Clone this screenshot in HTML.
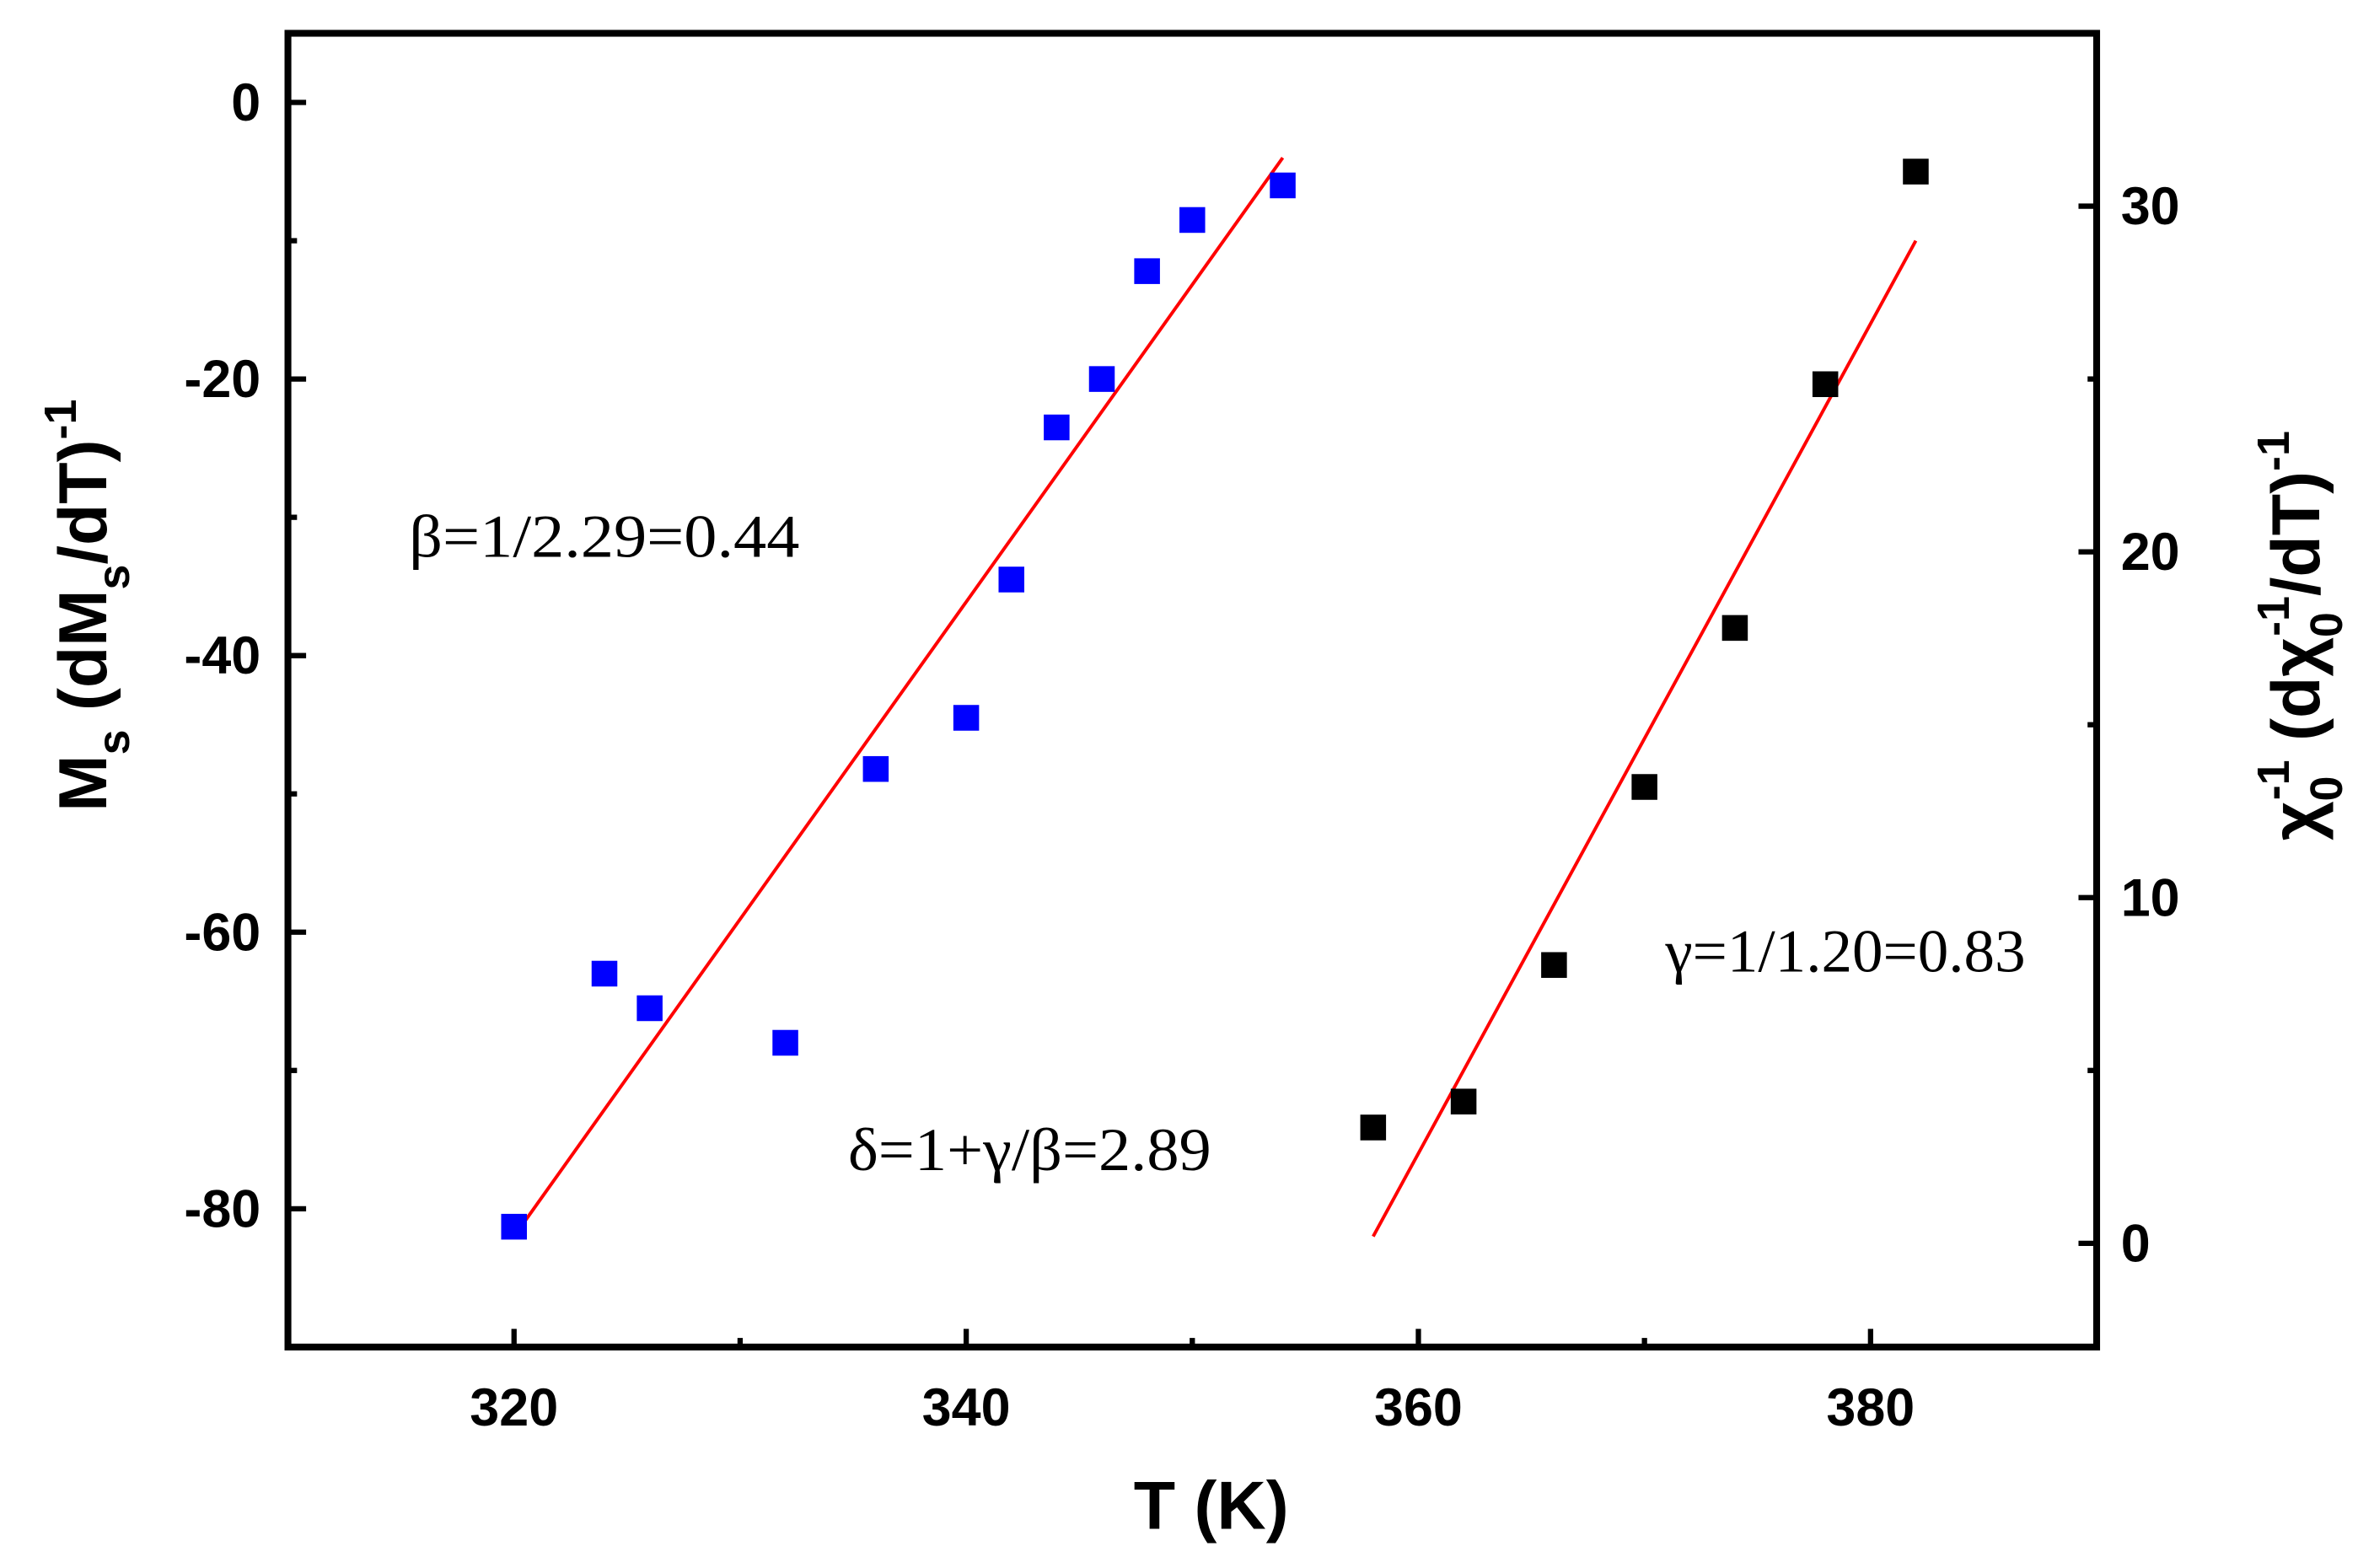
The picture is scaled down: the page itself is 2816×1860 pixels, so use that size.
<!DOCTYPE html>
<html><head><meta charset="utf-8"><style>
html,body{margin:0;padding:0;background:#fff}
svg{display:block}
.tk{font-family:"Liberation Sans",Arial,sans-serif;font-weight:bold;font-size:35px;fill:#000}
.ttl{font-family:"Liberation Sans",Arial,sans-serif;font-weight:bold;font-size:45px;fill:#000}
.ann{font-family:"Liberation Serif","DejaVu Serif",serif;font-size:40px;fill:#000}
</style></head><body>
<svg id="chart" width="2816" height="1860" viewBox="0 0 1568 1036" xmlns="http://www.w3.org/2000/svg">
<rect width="1568" height="1036" fill="#fff"/>
<g id="marks"></g>
<g id="axes"></g>
<text class="ttl" x="800" y="1010" text-anchor="middle" font-size="49">T (K)</text>
<text class="ttl" transform="translate(70,400) rotate(-90)" text-anchor="middle">M<tspan font-size="30" dy="15">s</tspan><tspan dy="-15"> (dM</tspan><tspan font-size="30" dy="15">s</tspan><tspan dy="-15">/dT)</tspan><tspan font-size="30" dy="-20">-1</tspan></text>
<text class="ttl" transform="translate(1532,420) rotate(-90)" text-anchor="middle">χ<tspan font-size="30" dy="15">0</tspan><tspan font-size="30" dx="-16" dy="-35">-1</tspan><tspan dy="20"> (dχ</tspan><tspan font-size="30" dy="15">0</tspan><tspan font-size="30" dx="-16" dy="-35">-1</tspan><tspan dy="20">/dT)</tspan><tspan font-size="30" dy="-20">-1</tspan></text>
<text class="ann" x="270" y="368" textLength="258" lengthAdjust="spacingAndGlyphs">β=1/2.29=0.44</text>
<text class="ann" x="1100" y="642" textLength="238" lengthAdjust="spacingAndGlyphs">γ=1/1.20=0.83</text>
<text class="ann" x="560" y="773" textLength="240" lengthAdjust="spacingAndGlyphs">δ=1+γ/β=2.89</text>
</svg>
<script>
const xTicks=[320,340,360,380];
const leftTicks=[0,-20,-40,-60,-80];
const rightTicks=[0,10,20,30];
const blueT=[320,324,326,332,336,340,342,344,346,348,350,354];
const blueM=[-81.3,-63,-65.5,-68,-48.2,-44.5,-34.5,-23.5,-20,-12.2,-8.5,-6];
const blueFitT=[320,354];
const blueFitM=[-82,-4];
const blackT=[358,362,366,370,374,378,382];
const blackChi=[3.35,4.1,8.05,13.2,17.8,24.85,31.0];
const blackFitT=[358,382];
const blackFitChi=[0.2,29.0];

const L=190,R=1385,T=22,B=890;
const X=v=>L+(v-310)/(390-310)*(R-L);
const YL=v=>T+(5-v)/(5+90)*(B-T);
const YR=v=>T+(35-v)/(35+3)*(B-T);
const NS="http://www.w3.org/2000/svg";
function mk(tag,attrs,parent){const e=document.createElementNS(NS,tag);for(const k in attrs)e.setAttribute(k,attrs[k]);parent.appendChild(e);return e;}
const marks=document.getElementById('marks'), axes=document.getElementById('axes');

let ln=mk('line',{x1:X(blueFitT[0]),y1:YL(blueFitM[0]),x2:X(blueFitT[1]),y2:YL(blueFitM[1]),stroke:'#f00','stroke-width':2.2},marks);


ln=mk('line',{x1:X(blackFitT[0]),y1:YR(blackFitChi[0]),x2:X(blackFitT[1]),y2:YR(blackFitChi[1]),stroke:'#f00','stroke-width':2.2},marks);


const s=17;
blueT.forEach((t,i)=>{const r=mk('rect',{x:X(t)-s/2,y:YL(blueM[i])-s/2,width:s,height:s,fill:'#0000ff'},marks);

});
blackT.forEach((t,i)=>{const r=mk('rect',{x:X(t)-s/2,y:YR(blackChi[i])-s/2,width:s,height:s,fill:'#000'},marks);

});

const fr=mk('rect',{x:L,y:T,width:R-L,height:B-T,fill:'none',stroke:'#000','stroke-width':4.5},axes);


for(let v=310;v<=390;v+=10){const maj=xTicks.includes(v);const len=maj?12:6;
const t=mk('line',{x1:X(v),y1:B,x2:X(v),y2:B-len,stroke:'#000','stroke-width':3.5},axes);

}
xTicks.forEach(v=>{const t=mk('text',{x:X(v),y:B+52,'text-anchor':'middle',class:'tk'},axes);t.textContent=v;

});
for(let v=0;v>=-90;v-=10){const maj=leftTicks.includes(v);const len=maj?12:6;
const t=mk('line',{x1:L,y1:YL(v),x2:L+len,y2:YL(v),stroke:'#000','stroke-width':3.5},axes);

}
leftTicks.forEach(v=>{const t=mk('text',{x:L-18,y:YL(v)+12,'text-anchor':'end',class:'tk'},axes);t.textContent=v;

});
for(let v=0;v<=35;v+=5){const maj=rightTicks.includes(v);const len=maj?12:6;
const t=mk('line',{x1:R,y1:YR(v),x2:R-len,y2:YR(v),stroke:'#000','stroke-width':3.5},axes);

}
rightTicks.forEach(v=>{const t=mk('text',{x:R+16,y:YR(v)+12,'text-anchor':'start',class:'tk'},axes);t.textContent=v;

});
</script>
</body></html>
